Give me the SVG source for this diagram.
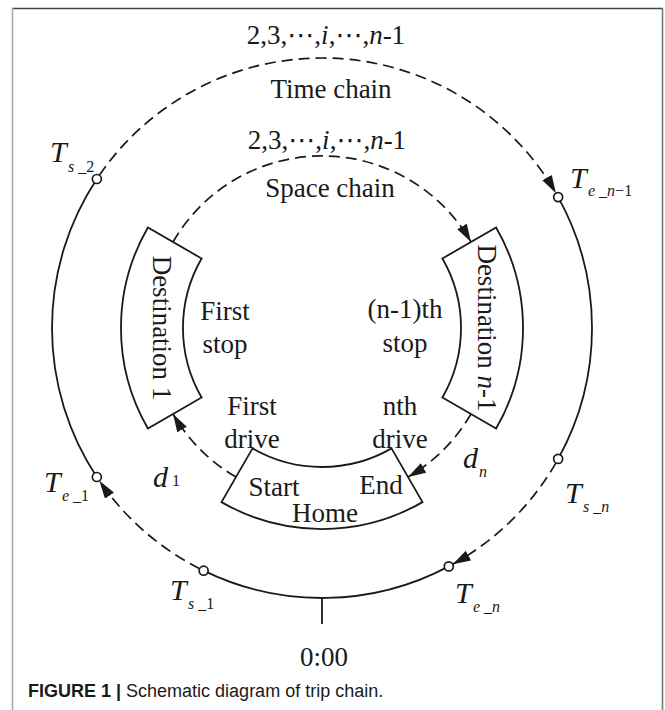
<svg xmlns="http://www.w3.org/2000/svg" width="665" height="710" viewBox="0 0 665 710">
<defs>
<style>
.ln{fill:none;stroke:#1a1a1a;stroke-width:1.8}
.dash{fill:none;stroke:#1a1a1a;stroke-width:1.7;stroke-dasharray:11 6}
.box{fill:#fff;stroke:#1a1a1a;stroke-width:1.8}
.dot{fill:#fff;stroke:#1a1a1a;stroke-width:1.7}
.t{font-family:"Liberation Serif","Times New Roman","DejaVu Serif","DejaVu Sans",serif;font-size:27px;fill:#1a1a1a;text-anchor:middle}
.T{font-family:"Liberation Serif","Times New Roman",serif;font-size:30px;font-style:italic;fill:#1a1a1a}
.sub{font-family:"Liberation Serif","Times New Roman",serif;font-size:16px;fill:#1a1a1a}
.i{font-style:italic}
</style>
<marker id="arr" viewBox="0 0 18 11" refX="18" refY="5.5" markerWidth="18" markerHeight="11" markerUnits="userSpaceOnUse" orient="auto">
<path d="M0,0 L18,5.5 L0,11 z" fill="#1a1a1a"/>
</marker>
</defs>
<rect width="665" height="710" fill="#fff"/>
<g id="frame">
<line x1="12" y1="8.5" x2="663" y2="8.5" stroke="#444" stroke-width="1.7"/>
<line x1="12.5" y1="8" x2="12.5" y2="710" stroke="#aaa" stroke-width="1.6"/>
<line x1="662.5" y1="8" x2="662.5" y2="710" stroke="#777" stroke-width="1.6"/>
</g>
<g id="connectors">
<path class="dash" d="M99.5,175.1 A270,270 0 0 1 555.96,193.2" marker-end="url(#arr)"/>
<path class="ln" d="M558.15,197.1 A270,270 0 0 1 558.15,458.9"/>
<path class="dash" d="M555.96,462.8 A270,270 0 0 1 452.7,564.3" marker-end="url(#arr)"/>
<path class="ln" d="M448.76,566.4 A270,270 0 0 1 203.64,570.67"/>
<path class="dash" d="M199.63,568.68 A270,270 0 0 1 99.36,480.73" marker-end="url(#arr)"/>
<path class="ln" d="M96.85,477.02 A270,270 0 0 1 96.85,178.98"/>
<line class="ln" x1="322" y1="598" x2="322" y2="624"/>
<path class="dash" d="M173,242 A172,172 0 0 1 471,242" marker-end="url(#arr)"/>
<path class="dash" d="M236,476.96 A172,172 0 0 1 173.04,414" marker-end="url(#arr)"/>
<path class="dash" d="M470.96,414 A172,172 0 0 1 408,476.96" marker-end="url(#arr)"/>
</g>
<g id="time-points">
<circle class="dot" cx="96.85" cy="178.98" r="4.5"/>
<circle class="dot" cx="558.15" cy="197.1" r="4.5"/>
<circle class="dot" cx="558.15" cy="458.9" r="4.5"/>
<circle class="dot" cx="448.76" cy="566.4" r="4.5"/>
<circle class="dot" cx="203.64" cy="570.67" r="4.5"/>
<circle class="dot" cx="96.85" cy="477.02" r="4.5"/>
</g>
<g id="destination-1">
<path class="box" d="M147.9,227.5 A201,201 0 0 0 147.9,428.5 L201.6,397.5 A139,139 0 0 1 201.6,258.5 Z"/>
<text class="t" transform="translate(153,328) rotate(90)">Destination 1</text>
</g>
<g id="destination-n-1">
<path class="box" d="M496.1,227.5 A201,201 0 0 1 496.1,428.5 L442.4,397.5 A139,139 0 0 0 442.4,258.5 Z"/>
<text class="t" transform="translate(478,328) rotate(90)">Destination <tspan class="i">n</tspan>-1</text>
</g>
<g id="home">
<path class="box" d="M252.5,448.4 A139,139 0 0 0 391.5,448.4 L422.5,502.1 A201,201 0 0 1 221.5,502.1 Z"/>
<text class="t" x="274" y="496">Start</text>
<text class="t" x="381" y="494">End</text>
<text class="t" x="325" y="522">Home</text>
</g>
<g id="labels">
<text class="t" x="326" y="44">2,3,⋯,<tspan class="i">i</tspan>,⋯,<tspan class="i">n</tspan>-1</text>
<text class="t" x="331" y="98">Time chain</text>
<text class="t" x="327" y="149">2,3,⋯,<tspan class="i">i</tspan>,⋯,<tspan class="i">n</tspan>-1</text>
<text class="t" x="330" y="197">Space chain</text>
<text class="t" x="225" y="320">First</text>
<text class="t" x="225" y="353">stop</text>
<text class="t" x="405" y="318">(n-1)th</text>
<text class="t" x="405" y="352">stop</text>
<text class="t" x="252" y="415">First</text>
<text class="t" x="252" y="448">drive</text>
<text class="t" x="400" y="415">nth</text>
<text class="t" x="400" y="448">drive</text>
<text class="t" x="324" y="666">0:00</text>
<text class="T" x="153" y="487" font-size="34">d</text>
<text class="sub" x="172" y="486" font-size="17">1</text>
<text class="T" x="463" y="468" font-size="24">d</text>
<text class="sub i" x="479" y="477" font-size="14">n</text>
<text class="T" x="50" y="162">T</text>
<text class="sub" x="68" y="172"><tspan class="i">s</tspan> _2</text>
<text class="T" x="570" y="188">T</text>
<text class="sub" x="588" y="196"><tspan class="i">e</tspan> _<tspan class="i">n</tspan>−1</text>
<text class="T" x="44" y="492">T</text>
<text class="sub" x="62" y="501"><tspan class="i">e</tspan> _1</text>
<text class="T" x="565" y="503">T</text>
<text class="sub" x="583" y="512"><tspan class="i">s</tspan> _<tspan class="i">n</tspan></text>
<text class="T" x="170" y="600">T</text>
<text class="sub" x="188" y="609"><tspan class="i">s</tspan> _1</text>
<text class="T" x="455" y="603">T</text>
<text class="sub" x="473" y="612"><tspan class="i">e</tspan> _<tspan class="i">n</tspan></text>
</g>
<g id="caption">
<text x="28" y="697" font-family="Liberation Sans, Arial, sans-serif" font-size="18" fill="#1a1a1a"><tspan font-weight="bold">FIGURE 1 |</tspan> Schematic diagram of trip chain.</text>
</g>
</svg>
